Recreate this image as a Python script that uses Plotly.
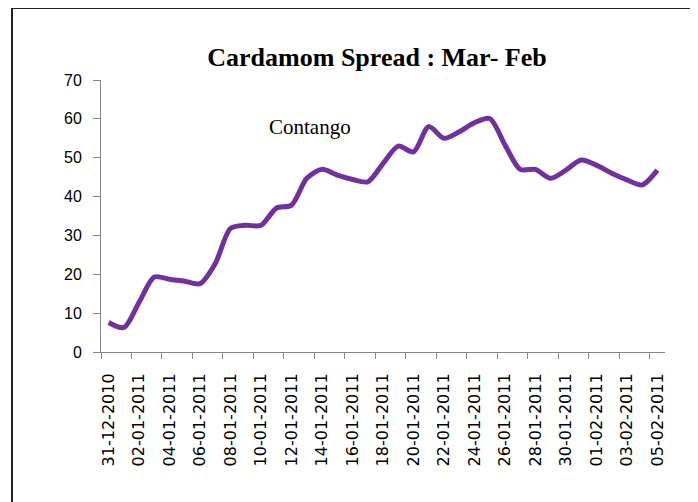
import plotly.graph_objects as go
import datetime as dt

start = dt.date(2010, 12, 31)
dates = [(start + dt.timedelta(days=i)).strftime("%d-%m-%Y") for i in range(37)]

spread = [7.6, 6.3, 12.8, 19.3, 18.7, 18.2, 17.6, 22.8, 31.8, 32.6,
          32.6, 37.0, 37.8, 44.7, 47.0, 45.5, 44.4, 43.8, 48.5, 53.0,
          51.5, 58.0, 55.0, 56.7, 59.0, 60.1, 53.3, 47.0, 47.0, 44.7,
          46.8, 49.4, 48.1, 46.0, 44.3, 43.0, 46.8]

title_text = "Cardamom Spread : Mar- Feb"
label_text = "Contango"

fig = go.Figure()
fig.add_trace(go.Scatter(
    x=dates, y=spread, mode="lines",
    line=dict(color="#7030A0", width=5, shape="spline", smoothing=0.8),
    showlegend=False,
))

# page body has an 8px margin; figure coords = reference px - 8
OFF = 8
W, H = 698 - OFF, 502 - OFF
ml, mt = 101 - OFF, 80 - OFF
mr = W - (665 - OFF)
mb = H - (352 - OFF)
pw, ph = W - ml - mr, H - mt - mb

fig.update_layout(
    width=W, height=H,
    margin=dict(l=ml, r=mr, t=mt, b=mb),
    paper_bgcolor="white", plot_bgcolor="white",
    title=dict(text="<b>" + title_text + "</b>", x=(377 - OFF - ml) / pw, xref="paper",
               xanchor="center", y=1 - (57 - OFF) / H, yref="container", yanchor="middle",
               font=dict(family="Liberation Serif", size=26, color="black")),
    xaxis=dict(
        type="category", range=[-0.5, 36.5],
        tickmode="linear", tick0=0, dtick=2,
        tickson="boundaries", ticks="outside", ticklen=6, tickcolor="#868686",
        tickangle=-90, showgrid=False, zeroline=False,
        showline=True, linecolor="#868686", linewidth=1,
        ticklabelstandoff=14,
        tickfont=dict(family="DejaVu Sans", size=16, color="black"),
    ),
    yaxis=dict(
        range=[0, 70], dtick=10, tick0=0,
        ticks="outside", ticklen=7, tickcolor="#868686",
        showgrid=False, zeroline=False,
        showline=True, linecolor="#868686", linewidth=1,
        ticklabelstandoff=8,
        tickfont=dict(family="Liberation Sans", size=16, color="black"),
    ),
    annotations=[dict(
        text=label_text, x=(310 - OFF - ml) / pw, y=(352 - 127) / ph,
        xref="paper", yref="paper", showarrow=False,
        xanchor="center", yanchor="middle",
        font=dict(family="Liberation Serif", size=21, color="black"),
    )],
    shapes=[dict(
        type="rect", xref="paper", yref="paper",
        x0=(12 - OFF - ml) / pw, x1=1.3, y0=-1.0, y1=(352 - 8) / ph,
        line=dict(color="#222222", width=2), fillcolor="rgba(0,0,0,0)",
    )],
)

fig.write_html("out.html")
